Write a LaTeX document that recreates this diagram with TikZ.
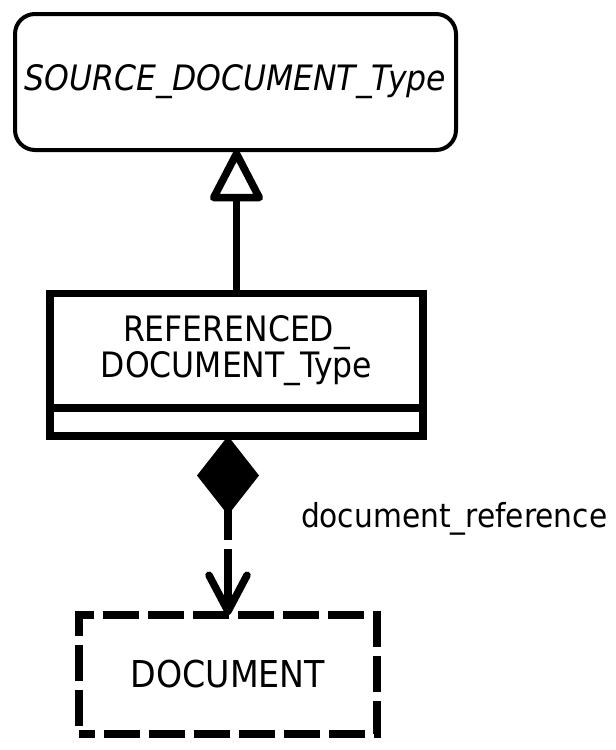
\documentclass[tikz,border=0pt]{standalone}
\usepackage{fontspec}
\setmainfont{DejaVu Sans Condensed}
\usetikzlibrary{arrows.meta,positioning}

\begin{document}
\begin{tikzpicture}[
  x=1pt, y=-1pt,
  every node/.style={align=center, inner sep=0pt, outer sep=0pt,
                      font=\fontsize{35}{36}\selectfont},
  cls/.style={draw, line width=7.5pt, minimum width=373pt},
  arr/.style={line width=7.5pt}
]
\useasboundingbox (0,0) rectangle (616,750);

\node (source) [draw, rounded corners=20pt, line width=4pt,
  minimum width=441pt, minimum height=136pt] at (235.5,82) {\itshape SOURCE\_DOCUMENT\_Type};
\node (refdoc) [cls, minimum height=114.5pt] at (236.5,350.75) {REFERENCED\_\\DOCUMENT\_Type};
\node (refdocattr) [cls, minimum height=28pt, below=0pt of refdoc] {};
\node (document) [draw, line width=7.5pt, dash pattern=on 36pt off 9pt, dash phase=20pt,
  minimum width=298pt, minimum height=119pt, font=\fontsize{37}{40}\selectfont] at (228,674.5) {DOCUMENT};
\node (docref) [anchor=west, font=\fontsize{33}{36}\selectfont] at (301,519) {document\_reference};

\draw[arr, -{Triangle[open, round, length=56pt, width=56pt]}] (refdoc.north) -- (refdoc.north |- source.south);
\draw[arr, dash pattern=on 31pt off 9pt on 100pt,
  {Diamond[length=79pt, width=62pt]}-{Straight Barb[round, length=36pt, width=38pt]}]
  (document.north |- refdocattr.south) -- (document.north);
\end{tikzpicture}
\end{document}
